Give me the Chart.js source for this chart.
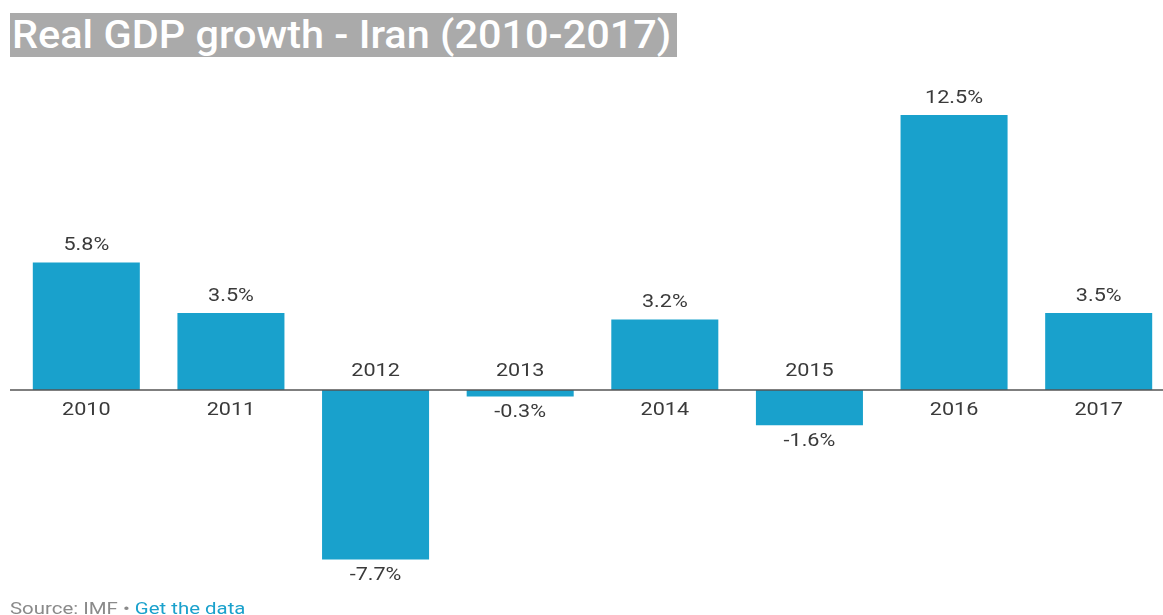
<!DOCTYPE html>
<html lang="en">
<head>
  <meta charset="utf-8">
  <title>Real GDP growth - Iran (2010-2017)</title>
  <script src="https://cdn.jsdelivr.net/npm/chart.js@4.4.0/dist/chart.umd.min.js"></script>
  <style>
    html, body {
      margin: 0;
      padding: 0;
      background: #fff;
      overflow: hidden;
      font-family: Roboto, "Noto Sans", sans-serif;
    }
    #wrap {
      position: relative;
      width: 1163px;
      height: 615px;
      overflow: hidden;
    }
    #title {
      position: absolute;
      left: 10px;
      top: 13px;
      width: 667px;
      height: 44px;
      background: #aaaaaa;
    }
    #title span {
      position: absolute;
      left: 2px;
      top: 0;
      line-height: 44px;
      color: #fff;
      font-size: 38px;
      font-weight: 500;
      white-space: nowrap;
      transform: scaleX(1.09);
      transform-origin: left center;
    }
    #chartBox {
      position: absolute;
      left: 0;
      top: 0;
      width: 1175px;
      height: 615px;
    }
    #source {
      position: absolute;
      left: 10px;
      top: 598px;
      font-size: 17px;
      color: #8a8a8a;
      white-space: nowrap;
      transform: scaleX(1.2);
      transform-origin: left center;
    }
    #source span { color: #1aa1cc; }
  </style>
</head>
<body>
<div id="wrap">
  <div id="chartBox"><canvas id="gdpChart" width="1175" height="615"></canvas></div>
  <div id="title"><span>Real GDP growth - Iran (2010-2017)</span></div>
  <div id="source">Source: IMF • <span>Get the data</span></div>
</div>

<script>
// data
var years = ['2010', '2011', '2012', '2013', '2014', '2015', '2016', '2017'];
var growth = [5.8, 3.5, -7.7, -0.3, 3.2, -1.6, 12.5, 3.5];

var barColor = '#19a1cc';
var textColor = '#3a3a3a';

// text in the original is a bit wider than plain Roboto
function wideText(ctx, txt, x, y) {
  ctx.save();
  ctx.translate(x, y);
  ctx.scale(1.2, 1);
  ctx.fillText(txt, 0, 0);
  ctx.restore();
}

// draws the zero line plus the year / value labels on each side of it
var labelPlugin = {
  id: 'labelPlugin',
  afterDatasetsDraw: function (chart) {
    var ctx = chart.ctx;
    var y0 = chart.scales.y.getPixelForValue(0);
    var meta = chart.getDatasetMeta(0);

    ctx.save();
    ctx.strokeStyle = '#555555';
    ctx.lineWidth = 1.6;
    ctx.beginPath();
    ctx.moveTo(10, y0);
    ctx.lineTo(chart.width, y0);
    ctx.stroke();

    ctx.fillStyle = textColor;
    ctx.font = '18px Roboto, "Noto Sans", sans-serif';
    ctx.textAlign = 'center';
    ctx.textBaseline = 'middle';
    meta.data.forEach(function (bar, i) {
      var v = growth[i];
      var txt = v.toFixed(1) + '%';
      if (v >= 0) {
        wideText(ctx, txt, bar.x, bar.y - 17);
        wideText(ctx, years[i], bar.x, y0 + 20);
      } else {
        wideText(ctx, years[i], bar.x, y0 - 19);
        wideText(ctx, txt, bar.x, bar.y + 16);
      }
    });
    ctx.restore();
  }
};

var ctx = document.getElementById('gdpChart').getContext('2d');
var chart = new Chart(ctx, {
  type: 'bar',
  data: {
    labels: years,
    datasets: [{
      data: growth,
      backgroundColor: barColor,
      borderWidth: 0,
      barPercentage: 0.74,
      categoryPercentage: 1.0
    }]
  },
  options: {
    responsive: false,
    animation: false,
    layout: {
      padding: { top: 93, bottom: 38, left: 14, right: 4 }
    },
    plugins: {
      legend: { display: false },
      tooltip: { enabled: false }
    },
    scales: {
      x: { display: false },
      y: { display: false, min: -8.5, max: 13.5 }
    }
  },
  plugins: [labelPlugin]
});
</script>
</body>
</html>
